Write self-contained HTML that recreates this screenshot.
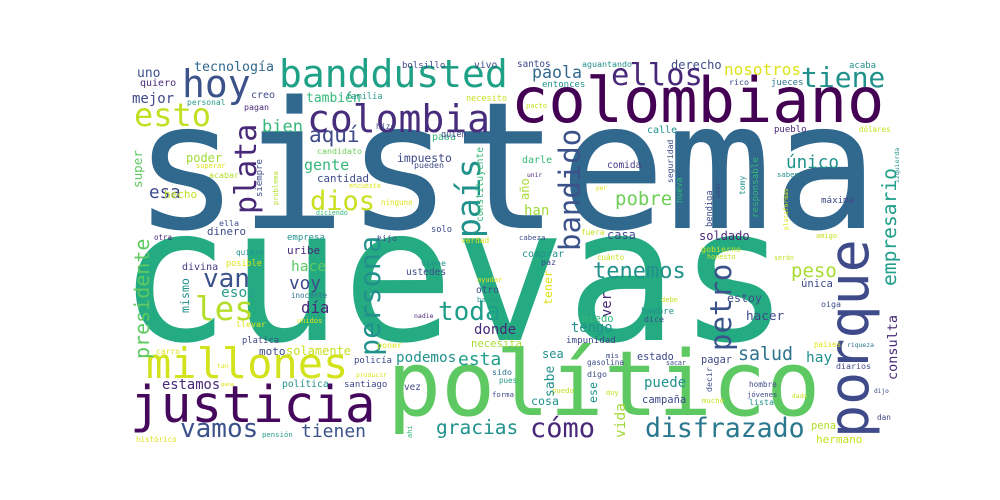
<!DOCTYPE html>
<html><head><meta charset="utf-8"><style>
html,body{margin:0;padding:0;background:#fff;}
svg{display:block;}
text{font-family:"DejaVu Sans Mono","Liberation Mono",monospace;}
</style></head><body>
<svg id="cloud" width="1000" height="500" viewBox="0 0 1000 500" xmlns="http://www.w3.org/2000/svg">
<rect width="1000" height="500" fill="#fff"/>
</svg>
<script>
// word, font size (weight), x, y (baseline start), rotation, color
const layout = [
["sistema",177,133,228,0,"#31688e"],
["cuevas",186,118,340,0,"#25ab82"],
["político",90,387,415,0,"#5ec962"],
["colombiano",62,511,122,0,"#440154"],
["justicia",51,130,422,0,"#46085c"],
["millones",42,146,378,0,"#d2e21b"],
["porque",55,868,438,-90,"#3e4a89"],
["hoy",38,182,97,0,"#3b528b"],
["banddusted",38,279,87,0,"#1fa187"],
["esto",32,134,126,0,"#c2df23"],
["colombia",38,307,132,0,"#472d7b"],
["plata",30,256,214,-90,"#482878"],
["persona",28.5,380,356,-90,"#21918c"],
["país",33,480,238,-90,"#21918c"],
["bandido",29,580,251,-90,"#3b528b"],
["petro",29,731,351,-90,"#3b528b"],
["empresario",19.6,896,286,-90,"#1f9e89"],
["presidente",20,149,359,-90,"#5ec962"],
["dios",27,310,210,0,"#c8e020"],
["van",26,203,287,0,"#3b528b"],
["les",32.6,195,320,0,"#b5de2b"],
["toda",26,438,320,0,"#1f9e89"],
["ellos",30.5,611,85,0,"#482878"],
["tiene",28,801,87,0,"#21918c"],
["cómo",27,530,437,0,"#482878"],
["disfrazado",26.5,645,437,0,"#2a788e"],
["vamos",26,180,437,0,"#3b528b"],
["gracias",19.5,436,434,0,"#21918c"],
["tienen",18,301,437,0,"#3b528b"],
["tenemos",22,593,278,0,"#21918c"],
["peso",19,791,277,0,"#a8db34"],
["pobre",19,615,205,0,"#6ece58"],
["único",17.6,786,168,0,"#21918c"],
["salud",18.3,738,360,0,"#2c728e"],
["esta",18,458,365,0,"#1f9e89"],
["nosotros",16,724,75,0,"#dde318"],
["paola",16.6,532,78,0,"#31688e"],
["aquí",21,309,142,0,"#3e4a89"],
["bien",17,262,132,0,"#35b779"],
["esa",17.6,149,198,0,"#3e4a89"],
["voy",17.7,289,289,0,"#3e4a89"],
["día",15.7,301,313,0,"#482878"],
["esos",14.5,221,297,0,"#2a9d8a"],
["hace",14.5,291,271,0,"#5ec962"],
["donde",14,474,334,0,"#482878"],
["podemos",14.3,396,362,0,"#21918c"],
["estamos",13.8,162,389,0,"#482878"],
["gente",15,304,170,0,"#35b779"],
["tecnología",13.3,194,71,0,"#31688e"],
["mejor",14,132,103,0,"#3e4a89"],
["también",13,306,102,0,"#35b779"],
["uno",13,137,77,0,"#3b528b"],
["poder",12,186,162,0,"#a0da39"],
["impuesto",11.4,397,162,0,"#3e4a89"],
["cantidad",10.8,317,182,0,"#3e4a89"],
["hecho",11,164,198,0,"#c2df23"],
["dinero",10.8,207,235,0,"#3e4a89"],
["hay",14.5,806,362,0,"#21918c"],
["puede",14,644,387,0,"#21918c"],
["tengo",13.8,571,332,0,"#21918c"],
["hacer",12.7,746,320,0,"#3e4a89"],
["han",14,524,215,0,"#a0da39"],
["derecho",12,671,69,0,"#3e4a89"],
["soldado",12,699,240,0,"#482878"],
["casa",12,607,239,0,"#3e4a89"],
["solamente",12,286,355,0,"#c8e020"],
["moto",11,259,355,0,"#3e4a89"],
["uribe",11,287,254,0,"#482878"],
["cosa",11.6,531,405,0,"#21918c"],
["sea",12,542,358,0,"#21918c"],
["hermano",11,816,443,0,"#c8e020"],
["pena",10.4,811,429,0,"#b5de2b"],
["campaña",10.5,642,403,0,"#3e4a89"],
["estado",10.2,637,360,0,"#3e4a89"],
["pagar",10.3,701,363,0,"#3e4a89"],
["única",10.6,801,287,0,"#3e4a89"],
["estoy",11.6,727,302,0,"#3e4a89"],
["miedo",10.5,582,322,0,"#35b779"],
["comprar",10,522,257,0,"#21918c"],
["darle",10,522,163,0,"#35b779"],
["calle",10,647,133,0,"#21918c"],
["divina",10,182,270,0,"#443983"],
["necesita",10.6,471,347,0,"#a8db34"],
["santos",9.3,517,67,0,"#3e4a89"],
["aguantando",8.3,582,67,0,"#21918c"],
["acaba",9,849,68,0,"#21918c"],
["entonces",9,542,87,0,"#21918c"],
["rico",8.3,729,85,0,"#3e4a89"],
["jueces",9,771,85,0,"#2c728e"],
["pacto",7,526,108,0,"#c8e020"],
["pueblo",9,774,132,0,"#482878"],
["dólares",7.5,859,132,0,"#c8e020"],
["comida",9.5,607,168,0,"#443983"],
["unir",6.3,527,177,0,"#482878"],
["saben",7.3,777,177,0,"#21918c"],
["per",6,596,190,0,"#dde318"],
["máxima",9.2,821,203,0,"#3e4a89"],
["cabeza",7.3,519,240,0,"#3e4a89"],
["fuera",7.8,581,235,0,"#c8e020"],
["amigo",7,816,238,0,"#c8e020"],
["paz",8.3,541,265,0,"#3e4a89"],
["gobierno",8.3,701,252,0,"#c8e020"],
["cuánto",7.5,597,260,0,"#c8e020"],
["honesto",6.8,707,259,0,"#c8e020"],
["serán",6.6,774,260,0,"#c8e020"],
["debe",7,661,302,0,"#c8e020"],
["oiga",8.3,821,307,0,"#3e4a89"],
["hambre",9.2,641,314,0,"#21918c"],
["dice",8.3,644,322,0,"#3e4a89"],
["impunidad",9.2,566,343,0,"#3e4a89"],
["países",7.5,814,347,0,"#dde318"],
["riqueza",6.4,847,347,0,"#2c728e"],
["mis",7.2,606,358,0,"#3e4a89"],
["gasolina",7.7,587,365,0,"#3e4a89"],
["sacar",6.6,666,365,0,"#3e4a89"],
["diarios",8.3,836,369,0,"#3e4a89"],
["digo",8.3,587,377,0,"#3e4a89"],
["hombre",7.7,749,387,0,"#3e4a89"],
["dijo",6.2,874,393,0,"#3e4a89"],
["puedo",7.3,552,393,0,"#c8e020"],
["doy",7,606,395,0,"#c8e020"],
["dado",6.2,792,398,0,"#c8e020"],
["jóvenes",7.2,747,397,0,"#3e4a89"],
["mucho",7.3,702,403,0,"#c8e020"],
["lista",8.3,749,405,0,"#21918c"],
["dan",7.7,877,420,0,"#3e4a89"],
["quiero",10,140,86,0,"#482878"],
["creo",10,251,98,0,"#3e4a89"],
["familia",8.7,346,99,0,"#2a9d8a"],
["bolsillo",9,402,68,0,"#3e4a89"],
["vivo",9.7,474,68,0,"#3e4a89"],
["necesito",8.5,466,101,0,"#c8e020"],
["personal",8,187,105,0,"#2a9d8a"],
["pagan",8.3,244,110,0,"#482878"],
["pasa",10,432,140,0,"#35b779"],
["quién",8.5,441,137,0,"#3e4a89"],
["hizo",8,376,129,0,"#3e4a89"],
["candidato",8.3,317,154,0,"#6ece58"],
["superar",7,196,168,0,"#dde318"],
["acabar",8.3,209,178,0,"#b5de2b"],
["pueden",8.3,414,168,0,"#3e4a89"],
["encuesta",6.6,349,188,0,"#dde318"],
["ninguno",7.5,381,205,0,"#dde318"],
["diciendo",6.6,316,215,0,"#35b779"],
["ella",8.3,219,226,0,"#3e4a89"],
["solo",8.7,431,232,0,"#3e4a89"],
["otra",7.5,154,240,0,"#482878"],
["empresa",9,287,240,0,"#21918c"],
["hijo",8.3,377,241,0,"#3e4a89"],
["verdad",7.8,461,243,0,"#dde318"],
["quiere",7.7,236,255,0,"#21918c"],
["posible",8.5,226,266,0,"#dde318"],
["viene",8.3,421,266,0,"#21918c"],
["ustedes",9.5,406,275,0,"#3e4a89"],
["ayudar",7,477,282,0,"#dde318"],
["otro",9.5,476,293,0,"#3e4a89"],
["inocente",7.5,291,298,0,"#2c728e"],
["banco",7.3,477,302,0,"#2a9d8a"],
["nadie",6.5,414,318,0,"#482878"],
["unidos",7,297,323,0,"#dde318"],
["llevar",8.3,236,327,0,"#dde318"],
["platica",8.8,242,343,0,"#3e4a89"],
["poner",8.3,377,348,0,"#dde318"],
["carro",8,156,354,0,"#dde318"],
["policía",9,354,363,0,"#3e4a89"],
["tan",6.5,217,368,0,"#dde318"],
["sido",8.3,492,375,0,"#2c728e"],
["producir",6.4,356,377,0,"#dde318"],
["gana",5.5,221,386,0,"#dde318"],
["pues",7.5,499,383,0,"#2a9d8a"],
["política",9.7,282,387,0,"#21918c"],
["santiago",9,344,387,0,"#3e4a89"],
["vez",9.4,404,390,0,"#3e4a89"],
["forma",7.3,492,397,0,"#3e4a89"],
["pensión",7.3,262,437,0,"#2a9d8a"],
["histórico",7.5,136,442,0,"#dde318"],
["super",12.6,142,188,-90,"#5ec962"],
["siempre",9,262,197,-90,"#3e4a89"],
["problema",7,278,205,-90,"#b5de2b"],
["constituyente",9.6,483,222,-90,"#35b779"],
["mismo",11.6,189,313,-90,"#21918c"],
["ahí",7,412,438,-90,"#35b779"],
["año",12,529,200,-90,"#a8db34"],
["seguridad",8,673,183,-90,"#3e4a89"],
["nueva",8.5,682,203,-90,"#35b779"],
["responsable",9.2,758,218,-90,"#35b779"],
["tomy",8,745,195,-90,"#21918c"],
["izquierda",6.5,899,183,-90,"#21918c"],
["bendiga",8.7,712,227,-90,"#3e4a89"],
["usar",6.6,720,198,-90,"#3e4a89"],
["plataformas",6.3,788,230,-90,"#dde318"],
["tener",11.6,552,305,-90,"#dde318"],
["ver",13.8,611,317,-90,"#482878"],
["consulta",13.5,897,380,-90,"#482878"],
["sabe",13,554,397,-90,"#21918c"],
["decir",8.3,712,392,-90,"#3e4a89"],
["ese",11.6,597,403,-90,"#21918c"],
["vida",14.5,625,438,-90,"#a0da39"]
];
const words = layout.map(r => r[0]);
const sizes = layout.map(r => r[1]);

const svg = document.getElementById('cloud');
const NS = 'http://www.w3.org/2000/svg';
layout.forEach((r, i) => {
  const t = document.createElementNS(NS, 'text');
  
  
  t.setAttribute('x', r[2]);
  t.setAttribute('y', r[3]);
  t.setAttribute('font-size', sizes[i]);
  t.setAttribute('fill', r[5]);
  if (r[4]) t.setAttribute('transform', 'rotate(' + r[4] + ' ' + r[2] + ' ' + r[3] + ')');
  t.textContent = words[i];
  svg.appendChild(t);
});
</script>
</body></html>
